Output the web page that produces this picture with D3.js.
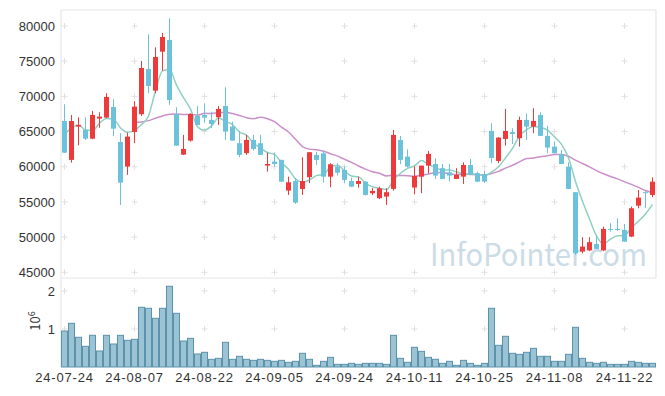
<!DOCTYPE html>
<html>
<head>
<meta charset="utf-8">
<script src="https://cdn.jsdelivr.net/npm/d3@7"></script>
<style>
  body { margin: 0; background: #fff; }
  svg { display: block; font-family: "Noto Sans CJK KR", "Noto Sans", sans-serif; }
</style>
</head>
<body>
<div id="chart"></div>
<script>
// trading days shown (yy-mm-dd)
var dates = ["24-07-24","24-07-25","24-07-26","24-07-29","24-07-30","24-07-31","24-08-01","24-08-02","24-08-05","24-08-06",
  "24-08-07","24-08-08","24-08-09","24-08-12","24-08-13","24-08-14","24-08-16","24-08-19","24-08-20","24-08-21",
  "24-08-22","24-08-23","24-08-26","24-08-27","24-08-28","24-08-29","24-08-30","24-09-02","24-09-03","24-09-04",
  "24-09-05","24-09-06","24-09-09","24-09-10","24-09-11","24-09-12","24-09-13","24-09-19","24-09-20","24-09-23",
  "24-09-24","24-09-25","24-09-26","24-09-27","24-09-30","24-10-02","24-10-04","24-10-07","24-10-08","24-10-10",
  "24-10-11","24-10-14","24-10-15","24-10-16","24-10-17","24-10-18","24-10-21","24-10-22","24-10-23","24-10-24",
  "24-10-25","24-10-28","24-10-29","24-10-30","24-10-31","24-11-01","24-11-04","24-11-05","24-11-06","24-11-07",
  "24-11-08","24-11-11","24-11-12","24-11-13","24-11-14","24-11-15","24-11-18","24-11-19","24-11-20","24-11-21",
  "24-11-22","24-11-25","24-11-26","24-11-27","24-11-28"];

var open = [66500,60970,65700,65230,63990,66830,66980,68490,63520,60020,
  64940,67460,73890,70810,76350,78010,67500,61720,63710,67220,
  67360,66650,67030,68640,65700,63340,61930,63810,63340,60160,
  60730,60970,56610,57970,56840,58510,61680,61910,58590,60020,
  59550,57970,57560,57880,56230,55530,55760,56850,63810,61440,
  57040,58590,60160,60390,59790,59210,58270,58590,60250,59080,
  58930,65090,60820,63950,64940,64050,66650,65700,67360,64380,
  62860,61780,60020,56380,47940,48110,49030,48110,51160,51160,
  51020,50070,54470,56380,55990];
var high = [68880,67350,67030,67030,67930,67740,70440,69590,64760,64850,
  69300,75030,78820,76970,79010,81090,68450,64520,67600,68640,
  69020,67830,68640,71290,66410,65090,64520,64520,64520,62000,
  62000,61000,58590,58370,61350,62100,62140,62290,60500,60500,
  60020,58450,58590,57970,56950,57170,56950,65230,64380,62480,
  60020,60160,62240,61210,60390,60390,59790,60630,61110,59300,
  59450,66180,64200,68210,65470,67120,67600,68310,67740,65800,
  63570,62390,60630,56380,49990,49990,50310,51490,51970,52680,
  51870,54330,56700,56560,58500];
var low = [61950,60580,63050,63800,63900,65550,66900,64380,54570,58840,
  63340,67220,70440,70440,73610,68780,62950,61650,63570,65900,
  66270,65470,65940,63800,63700,61350,61680,62290,61680,59300,
  60020,57800,55990,54720,55990,57660,60250,57740,57090,58740,
  57650,57100,57030,55900,55990,55400,54570,56600,60360,59900,
  56090,56240,59080,58270,58270,57880,58270,57560,58840,57790,
  57700,60500,60500,63000,63240,62860,63810,64760,64380,61920,
  61900,60390,56850,47470,47700,48000,48320,48000,50780,50880,
  49360,49990,54100,54110,55670];
var close = [62000,66500,65940,63990,67360,67120,69920,65410,57740,64280,
  68540,74030,71480,75600,78440,69490,63000,62530,67500,65940,
  66980,66080,68210,64990,63710,61680,63810,62530,61680,60390,
  60390,57880,57790,54900,57970,62060,60970,58590,60350,59160,
  58130,57170,57970,55990,56560,56940,56380,64520,60970,60020,
  58690,60160,61820,58740,58270,58740,58840,60250,58840,57880,
  57880,61250,64140,65090,64660,66650,65700,66510,64380,62720,
  61910,60390,56850,47710,48650,49280,48320,51160,51120,51120,
  49360,54100,55610,56280,57880];
// closes of the 9 sessions before the first shown day (used for the averages)
var priorClose = [73190,67780,68780,71900,64910,62240,63600,67540,67700];
// volume in shares
var volume = [947000,1149000,781000,544000,833000,421000,833000,605000,833000,702000,
  728000,1570000,1544000,1281000,1544000,2123000,1412000,684000,754000,342000,
  386000,202000,228000,649000,202000,281000,202000,175000,202000,175000,
  149000,175000,123000,149000,360000,202000,44000,149000,254000,70000,
  70000,96000,70000,96000,96000,96000,70000,833000,228000,123000,
  518000,412000,254000,202000,96000,149000,44000,175000,96000,44000,
  96000,1544000,570000,807000,360000,333000,386000,491000,281000,281000,
  149000,149000,333000,1044000,228000,123000,96000,123000,70000,70000,
  70000,149000,123000,96000,96000];

var priceTicks = [45000,50000,55000,60000,65000,70000,75000,80000];
var volTicks = [1000000, 2000000];
var labelEvery = 10;

var W = 665, H = 396;
var pLeft = 61, pRight = 656, pTop = 10, pMid = 278, pBottom = 367;
var upColor = "#ef3a3c", downColor = "#6cc2da";

var svg = d3.select("#chart").append("svg").attr("width", W).attr("height", H);

var x = d3.scaleBand().domain(dates).range([pLeft, pRight]).padding(0);
var cx = function (d) { return x(d) + x.bandwidth() / 2; };
var y = d3.scaleLinear().domain([44190, 82270]).range([pMid, pTop]);
var yv = d3.scaleLinear().domain([0, 2340000]).range([pBottom, pMid]);

var rows = dates.map(function (d, i) {
  return { date: d, o: open[i], h: high[i], l: low[i], c: close[i], v: volume[i] };
});

// moving averages from prior + shown closes
var allClose = priorClose.concat(close);
function ma(n) {
  var out = [];
  for (var i = 0; i < close.length; i++) {
    var k = i + priorClose.length;
    if (k - n + 1 < 0) { out.push(null); continue; }
    out.push(d3.mean(allClose.slice(k - n + 1, k + 1)));
  }
  return out;
}
var ma5 = ma(5), ma20 = ma(20);

// frame
var frame = svg.append("g").attr("stroke", "#e6e6e6").attr("stroke-width", 1.2);
frame.append("line").attr("x1", pLeft).attr("x2", pRight).attr("y1", pTop).attr("y2", pTop);
frame.append("line").attr("x1", pLeft).attr("x2", pRight).attr("y1", pMid).attr("y2", pMid);
frame.append("line").attr("x1", pLeft).attr("x2", pLeft).attr("y1", pTop).attr("y2", pBottom);
frame.append("line").attr("x1", pRight).attr("x2", pRight).attr("y1", pTop).attr("y2", pMid);

// grid crosses
var xTickDates = dates.filter(function (d, i) { return i % labelEvery === 0; });
var gridY = priceTicks.map(y).concat(volTicks.map(yv));
var cross = svg.append("g").attr("stroke", "#e0e0e0").attr("stroke-width", 1);
xTickDates.forEach(function (d) {
  gridY.forEach(function (gy) {
    cross.append("line").attr("x1", cx(d) - 3).attr("x2", cx(d) + 3).attr("y1", gy).attr("y2", gy);
    cross.append("line").attr("x1", cx(d)).attr("x2", cx(d)).attr("y1", gy - 3).attr("y2", gy + 3);
  });
});

// watermark
svg.append("text")
  .attr("x", 430).attr("y", 266)
  .attr("textLength", 217).attr("lengthAdjust", "spacingAndGlyphs")
  .style("font-size", "31px")
  .style("fill", "#cbdce6")
  .text("InfoPointer.com");

// volume bars
svg.append("g").selectAll("rect").data(rows).enter().append("rect")
  .attr("x", function (d) { return x(d.date) + 0.5; })
  .attr("y", function (d) { return yv(d.v); })
  .attr("width", x.bandwidth() - 1)
  .attr("height", function (d) { return pBottom - yv(d.v); })
  .style("fill", "#9bc3d3")
  .style("stroke", "#5b93ad")
  .style("stroke-width", 1);

// moving average lines
function maLine(vals, color) {
  var pts = dates.map(function (d, i) { return { date: d, v: vals[i] }; })
    .filter(function (p) { return p.v !== null; });
  svg.append("path").datum(pts)
    .attr("d", d3.line().curve(d3.curveMonotoneX)
      .x(function (p) { return cx(p.date); })
      .y(function (p) { return y(p.v); }))
    .style("fill", "none").style("stroke", color).style("stroke-width", 1.5);
}
maLine(ma20, "#cb8fca");
maLine(ma5, "#8fd0c3");

// candles
var candle = svg.append("g").selectAll("g").data(rows).enter().append("g");
candle.append("line")
  .attr("x1", function (d) { return cx(d.date); })
  .attr("x2", function (d) { return cx(d.date); })
  .attr("y1", function (d) { return y(d.h); })
  .attr("y2", function (d) { return y(d.l); })
  .style("stroke", function (d) { return d.c >= d.o ? upColor : downColor; })
  .style("stroke-width", 1);
candle.append("rect")
  .attr("x", function (d) { return cx(d.date) - 2.5; })
  .attr("width", 5)
  .attr("y", function (d) { return y(Math.max(d.o, d.c)); })
  .attr("height", function (d) { return Math.max(1, Math.abs(y(d.o) - y(d.c))); })
  .style("fill", function (d) { return d.c >= d.o ? upColor : downColor; });

// axes
var axisStyle = function (g) {
  g.select(".domain").remove();
  g.selectAll("text").style("font-size", "13px").style("fill", "#333");
};
svg.append("g").attr("transform", "translate(" + pLeft + ",0)")
  .call(d3.axisLeft(y).tickValues(priceTicks).tickSize(0).tickPadding(6).tickFormat(d3.format("d")))
  .call(axisStyle);
svg.append("g").attr("transform", "translate(" + pLeft + ",0)")
  .call(d3.axisLeft(yv).tickValues(volTicks).tickSize(0).tickPadding(6)
    .tickFormat(function (v) { return v / 1e6; }))
  .call(axisStyle);
svg.append("g").attr("transform", "translate(0," + pBottom + ")")
  .call(d3.axisBottom(x).tickValues(xTickDates).tickSize(0).tickPadding(6))
  .call(axisStyle)
  .selectAll("text").style("letter-spacing", "0.8px");

// volume unit label
var unit = svg.append("text")
  .attr("transform", "translate(40,321) rotate(-90)")
  .attr("text-anchor", "middle")
  .style("font-size", "13px").style("fill", "#333");
unit.append("tspan").text("10");
unit.append("tspan").attr("dy", -5).style("font-size", "9px").text("6");
</script>
</body>
</html>
